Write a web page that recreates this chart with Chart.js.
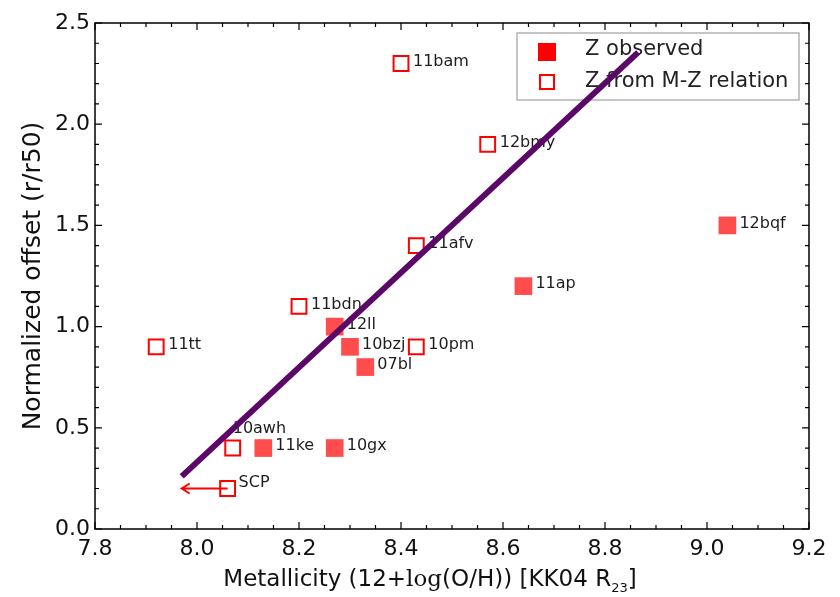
<!DOCTYPE html>
<html>
<head>
<meta charset="utf-8">
<script src="https://cdn.jsdelivr.net/npm/chart.js@4.4.0/dist/chart.umd.min.js"></script>
<style>
  html, body { margin: 0; padding: 0; background: #fff; }
</style>
</head>
<body>
<canvas id="offsetChart" width="840" height="597"></canvas>
<script>
// hosts with a measured metallicity
const observedNames = ['12bqf', '11ap', '12ll', '10bzj', '07bl', '11ke', '10gx'];
const observedZ = [9.04, 8.64, 8.27, 8.30, 8.33, 8.13, 8.27];
const observedOffset = [1.5, 1.2, 1.0, 0.9, 0.8, 0.4, 0.4];

// hosts where Z comes from the mass-metallicity relation
const relationNames = ['11bam', '12bmy', '11afv', '11bdn', '10pm', '11tt', '10awh', 'SCP'];
const relationZ = [8.40, 8.57, 8.43, 8.20, 8.43, 7.92, 8.07, 8.06];
const relationOffset = [2.3, 1.9, 1.4, 1.1, 0.9, 0.9, 0.4, 0.2];

// SCP is an upper limit in Z
const limitName = 'SCP';
const limitTo = 7.97;

// linear trend
const fitZ = [7.97, 8.865];
const fitOffset = [0.26, 2.355];

const xTicks = [7.8, 8.0, 8.2, 8.4, 8.6, 8.8, 9.0, 9.2];
const yTicks = [0.0, 0.5, 1.0, 1.5, 2.0, 2.5];

const legendLabels = ['Z observed', 'Z from M-Z relation'];

const toPoints = (xs, ys) => xs.map((v, i) => ({ x: v, y: ys[i] }));

// x title pieces: text, font, baseline shift
const xTitleParts = [
    ['Metallicity (12+', '23px "DejaVu Sans"', 0],
    ['log', '23px "DejaVu Serif"', 0],
    ['(O/H)) [KK04 R', '23px "DejaVu Sans"', 0],
    ['23', '13px "DejaVu Sans"', 6],
    [']', '23px "DejaVu Sans"', 0]
];

const decorations = {
    id: 'decorations',
    beforeDatasetsDraw(chart) {
        const { ctx, chartArea: a, scales: { x, y } } = chart;
        ctx.save();

        // legend box
        ctx.fillStyle = '#fff';
        ctx.fillRect(a.left + 422, a.top + 10, 282, 67);
        ctx.strokeStyle = '#b3b3b3';
        ctx.lineWidth = 1.5;
        ctx.strokeRect(a.left + 422, a.top + 10, 282, 67);
        const mx = a.left + 452;
        ctx.fillStyle = '#ff0000';
        ctx.fillRect(mx - 9, a.top + 29 - 9, 18, 18);
        ctx.strokeStyle = '#ff0000';
        ctx.lineWidth = 2;
        ctx.strokeRect(mx - 7, a.top + 59 - 7, 14, 14);
        ctx.fillStyle = '#222';
        ctx.font = '21px "DejaVu Sans"';
        ctx.textBaseline = 'middle';
        ctx.textAlign = 'left';
        ctx.fillText(legendLabels[0], a.left + 490, a.top + 27);
        ctx.fillText(legendLabels[1], a.left + 490, a.top + 59);

        // upper-limit arrow for SCP
        const si = relationNames.indexOf(limitName);
        const sx = x.getPixelForValue(relationZ[si]);
        const sy = y.getPixelForValue(relationOffset[si]);
        const tx = x.getPixelForValue(limitTo);
        ctx.strokeStyle = '#ff0000';
        ctx.lineWidth = 2;
        ctx.beginPath();
        ctx.moveTo(sx, sy);
        ctx.lineTo(tx, sy);
        ctx.moveTo(tx + 8, sy - 5);
        ctx.lineTo(tx, sy);
        ctx.lineTo(tx + 8, sy + 5);
        ctx.stroke();

        // point names
        ctx.font = '16px "DejaVu Sans"';
        ctx.fillStyle = '#1e1e1e';
        const put = (name, z, off) => {
            const px = x.getPixelForValue(z);
            const py = y.getPixelForValue(off);
            if (name === '10awh') ctx.fillText(name, px, py - 19);
            else if (name === 'SCP') ctx.fillText(name, px + 11, py - 6);
            else ctx.fillText(name, px + 12, py - 2);
        };
        observedNames.forEach((n, i) => put(n, observedZ[i], observedOffset[i]));
        relationNames.forEach((n, i) => put(n, relationZ[i], relationOffset[i]));
        ctx.restore();
    },
    afterDraw(chart) {
        const { ctx, chartArea: a, scales: { x, y } } = chart;
        ctx.save();
        ctx.strokeStyle = '#000';
        ctx.lineWidth = 1.5;
        ctx.strokeRect(a.left, a.top, a.right - a.left, a.bottom - a.top);

        // inward ticks on all four sides
        ctx.lineWidth = 1.2;
        ctx.beginPath();
        for (let i = 0; i <= 28; i++) {
            const px = x.getPixelForValue(7.8 + i * 0.05);
            const len = i % 4 === 0 ? 7 : 4;
            ctx.moveTo(px, a.bottom); ctx.lineTo(px, a.bottom - len);
            ctx.moveTo(px, a.top); ctx.lineTo(px, a.top + len);
        }
        for (let i = 0; i <= 25; i++) {
            const py = y.getPixelForValue(i * 0.1);
            const len = i % 5 === 0 ? 7 : 4;
            ctx.moveTo(a.left, py); ctx.lineTo(a.left + len, py);
            ctx.moveTo(a.right, py); ctx.lineTo(a.right - len, py);
        }
        ctx.stroke();

        // x axis title with serif "log" and subscript
        ctx.fillStyle = '#111';
        ctx.textBaseline = 'alphabetic';
        ctx.textAlign = 'left';
        let total = 0;
        xTitleParts.forEach(([t, f]) => { ctx.font = f; total += ctx.measureText(t).width; });
        let cx = 430 - total / 2;
        const base = a.bottom + 57;
        xTitleParts.forEach(([t, f, dy]) => {
            ctx.font = f;
            ctx.fillText(t, cx, base + dy);
            cx += ctx.measureText(t).width;
        });
        ctx.restore();
    }
};

new Chart(document.getElementById('offsetChart'), {
    type: 'scatter',
    data: {
        datasets: [
            {
                data: toPoints(fitZ, fitOffset),
                showLine: true,
                borderColor: '#5c0868',
                borderWidth: 6,
                borderCapStyle: 'butt',
                pointRadius: 0,
                order: 0
            },
            {
                data: toPoints(observedZ, observedOffset),
                pointStyle: 'rect',
                pointRadius: 12.5,
                backgroundColor: '#ff4d4d',
                borderWidth: 0,
                order: 1
            },
            {
                data: toPoints(relationZ, relationOffset),
                pointStyle: 'rect',
                pointRadius: 10.5,
                backgroundColor: 'rgba(0,0,0,0)',
                borderColor: '#ff0000',
                borderWidth: 2,
                order: 2
            }
        ]
    },
    options: {
        responsive: false,
        animation: false,
        devicePixelRatio: 1,
        layout: { padding: { top: 23, right: 31, left: 0, bottom: 0 } },
        scales: {
            x: {
                min: 7.8, max: 9.2,
                afterBuildTicks: s => { s.ticks = xTicks.map(v => ({ value: v })); },
                afterFit: s => { s.height = 68; },
                grid: { display: false, drawTicks: false },
                border: { display: false },
                ticks: {
                    color: '#111', padding: 7,
                    font: { family: 'DejaVu Sans', size: 22 },
                    callback: v => v.toFixed(1)
                },
                title: { display: false }
            },
            y: {
                min: 0, max: 2.5,
                afterBuildTicks: s => { s.ticks = yTicks.map(v => ({ value: v })); },
                afterFit: s => { s.width = 95; },
                grid: { display: false, drawTicks: false },
                border: { display: false },
                ticks: {
                    color: '#111', padding: 5,
                    font: { family: 'DejaVu Sans', size: 22 },
                    callback: v => v.toFixed(1)
                },
                title: {
                    display: true,
                    text: 'Normalized offset (r/r50)',
                    color: '#111',
                    font: { family: 'DejaVu Sans', size: 25 },
                    padding: { top: 18, bottom: 0 }
                }
            }
        },
        plugins: {
            legend: { display: false },
            tooltip: { enabled: false }
        }
    },
    plugins: [decorations]
});
</script>
</body>
</html>
